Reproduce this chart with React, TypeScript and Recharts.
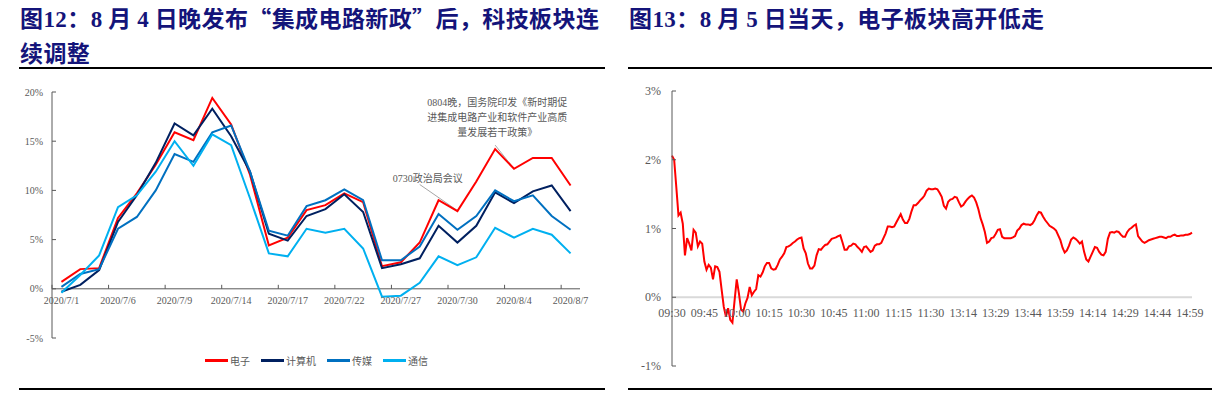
import React from "react";
import { LineChart, Line, XAxis, YAxis, Legend, ReferenceLine, ReferenceDot } from "recharts";

// 图12: sector cumulative returns
const dates = [
  "2020/7/1", "2020/7/2", "2020/7/3", "2020/7/6", "2020/7/7", "2020/7/8", "2020/7/9", "2020/7/10",
  "2020/7/13", "2020/7/14", "2020/7/15", "2020/7/16", "2020/7/17", "2020/7/20", "2020/7/21", "2020/7/22",
  "2020/7/23", "2020/7/24", "2020/7/27", "2020/7/28", "2020/7/29", "2020/7/30", "2020/7/31", "2020/8/3",
  "2020/8/4", "2020/8/5", "2020/8/6", "2020/8/7",
];
const dianzi = [0.7, 2.0, 2.1, 7.2, 9.7, 12.6, 15.9, 15.1, 19.4, 16.7, 11.6, 4.4, 5.2, 8.0, 8.5, 9.7, 8.8, 2.3, 2.7, 4.7, 9.0, 7.9, 10.9, 14.2, 12.2, 13.3, 13.3, 10.5];
const jisuanji = [-0.3, 0.4, 1.9, 6.8, 9.5, 12.8, 16.8, 15.6, 18.3, 15.5, 11.9, 5.6, 4.9, 7.4, 8.1, 9.6, 7.8, 2.1, 2.5, 3.1, 6.4, 4.7, 6.4, 9.8, 8.7, 9.9, 10.5, 7.9];
const chuanmei = [0.2, 1.5, 2.0, 6.1, 7.3, 10.0, 13.7, 12.9, 15.9, 16.6, 11.9, 5.9, 5.4, 8.4, 9.0, 10.1, 9.0, 2.9, 2.9, 4.3, 7.6, 6.0, 7.4, 10.0, 8.9, 9.5, 7.4, 6.0];
const tongxin = [-0.4, 1.4, 3.4, 8.3, 9.5, 11.9, 15.0, 12.5, 15.7, 14.6, 9.2, 3.6, 3.3, 6.1, 5.7, 6.1, 4.1, -0.8, -0.7, 0.6, 3.3, 2.4, 3.2, 6.2, 5.2, 6.1, 5.5, 3.6];
const legendOrder = ["电子", "计算机", "传媒", "通信"];
const leftYTicks = [-5, 0, 5, 10, 15, 20];

// 图13: 电子板块 intraday, [minutes since 09:30 (13:00 = 121), pct]
const intraday = [
  [0, 2.06], [1, 2.0], [2, 1.6], [3, 1.19], [4, 1.23], [5, 1.07], [6, 0.61], [7, 0.86], [8, 0.78], [9, 0.68],
  [10, 0.98], [11, 0.94], [12, 0.74], [13, 0.81], [14, 0.78], [15, 0.52], [16, 0.4], [17, 0.47], [18, 0.43], [19, 0.26],
  [20, 0.45], [21, 0.44], [22, 0.37], [23, 0.11], [24, -0.14], [25, -0.28], [26, -0.16], [27, -0.33], [28, -0.37], [29, -0.05],
  [30, 0.26], [31, 0.06], [32, -0.18], [33, -0.21], [34, -0.09], [35, -0.01], [36, 0.15], [37, 0.03], [38, 0.08], [39, 0.12],
  [40, 0.32], [41, 0.3], [42, 0.36], [43, 0.45], [44, 0.5], [45, 0.5], [46, 0.42], [47, 0.4], [48, 0.41], [49, 0.47],
  [50, 0.55], [51, 0.59], [52, 0.64], [53, 0.73], [54, 0.74], [55, 0.76], [56, 0.79], [57, 0.81], [58, 0.84], [59, 0.86],
  [60, 0.87], [61, 0.71], [62, 0.64], [63, 0.49], [64, 0.42], [65, 0.42], [66, 0.46], [67, 0.61], [68, 0.7], [69, 0.69],
  [70, 0.73], [71, 0.76], [72, 0.77], [73, 0.81], [74, 0.85], [75, 0.86], [76, 0.87], [77, 0.89], [78, 0.9], [79, 0.8],
  [80, 0.69], [81, 0.69], [82, 0.74], [83, 0.75], [84, 0.78], [85, 0.77], [86, 0.73], [87, 0.7], [88, 0.66], [89, 0.73],
  [90, 0.74], [91, 0.7], [92, 0.66], [93, 0.68], [94, 0.75], [95, 0.77], [96, 0.77], [97, 0.79], [98, 0.86], [99, 0.93],
  [100, 1.03], [101, 1.03], [102, 1.02], [103, 1.03], [104, 1.09], [105, 1.15], [106, 1.21], [107, 1.13], [108, 1.08], [109, 1.08],
  [110, 1.14], [111, 1.25], [112, 1.34], [113, 1.34], [114, 1.37], [115, 1.41], [116, 1.44], [117, 1.48], [118, 1.55], [119, 1.58],
  [120, 1.57], [121, 1.57], [122, 1.58], [123, 1.57], [124, 1.52], [125, 1.46], [126, 1.33], [127, 1.29], [128, 1.39], [129, 1.42],
  [130, 1.43], [131, 1.46], [132, 1.45], [133, 1.38], [134, 1.32], [135, 1.34], [136, 1.39], [137, 1.43], [138, 1.46], [139, 1.48],
  [140, 1.45], [141, 1.38], [142, 1.28], [143, 1.15], [144, 1.06], [145, 0.95], [146, 0.79], [147, 0.81], [148, 0.86], [149, 0.87],
  [150, 0.92], [151, 0.98], [152, 0.99], [153, 0.88], [154, 0.86], [155, 0.86], [156, 0.86], [157, 0.86], [158, 0.87], [159, 0.89],
  [160, 0.97], [161, 1.0], [162, 1.05], [163, 1.07], [164, 1.06], [165, 1.06], [166, 1.05], [167, 1.07], [168, 1.12], [169, 1.19],
  [170, 1.24], [171, 1.23], [172, 1.17], [173, 1.12], [174, 1.08], [175, 1.04], [176, 1.02], [177, 1.0], [178, 0.97], [179, 0.9],
  [180, 0.83], [181, 0.72], [182, 0.65], [183, 0.68], [184, 0.75], [185, 0.84], [186, 0.87], [187, 0.85], [188, 0.82], [189, 0.78],
  [190, 0.81], [191, 0.66], [192, 0.55], [193, 0.52], [194, 0.59], [195, 0.66], [196, 0.73], [197, 0.72], [198, 0.66], [199, 0.62],
  [200, 0.61], [201, 0.66], [202, 0.85], [203, 0.94], [204, 0.95], [205, 0.94], [206, 0.96], [207, 0.95], [208, 0.91], [209, 0.88],
  [210, 0.88], [211, 0.95], [212, 0.99], [213, 1.01], [214, 1.04], [215, 1.06], [216, 0.89], [217, 0.85], [218, 0.81], [219, 0.79],
  [220, 0.81], [221, 0.83], [222, 0.84], [223, 0.85], [224, 0.86], [225, 0.87], [226, 0.88], [227, 0.88], [228, 0.87], [229, 0.86],
  [230, 0.88], [231, 0.88], [232, 0.9], [233, 0.91], [234, 0.89], [235, 0.89], [236, 0.9], [237, 0.9], [238, 0.91], [239, 0.91],
  [240, 0.92], [241, 0.94],
];
const timeTicks = [0, 15, 30, 45, 60, 75, 90, 105, 120, 135, 150, 165, 180, 195, 210, 225, 240];
const timeLabels = ["09:30", "09:45", "10:00", "10:15", "10:30", "10:45", "11:00", "11:15", "11:30", "13:14", "13:29", "13:44", "13:59", "14:14", "14:29", "14:44", "14:59"];
const rightYTicks = [-1, 0, 1, 2, 3];

const GREY = "#595959";
const SERIF = "'Liberation Serif', 'Times New Roman', serif";
const CJK = "'Noto Sans CJK SC', sans-serif";

const leftData = dates.map((date, i) => ({
  date,
  dianzi: dianzi[i],
  jisuanji: jisuanji[i],
  chuanmei: chuanmei[i],
  tongxin: tongxin[i],
}));
const rightData = intraday.map(([m, v]) => ({ m, v }));

// left chart box
const LW = 610, LH = 292, LTOP = 12, LRIGHT = 30, LYW = 52, LXH = 10, LLEG = 24;
const lPlotH = LH - LTOP - LXH - LLEG;
const lPlotW = LW - LYW - LRIGHT;
const lZeroShift = (lPlotH * 5) / 25;
const lBand = lPlotW / dates.length;

// right chart box
const RW = 600, RH = 300, RTOP = 11, RRIGHT = 28, RYW = 52, RXH = 14;
const rPlotH = RH - RTOP - RXH;
const rZeroShift = rPlotH / 4;

const PctTick = (props: any) => {
  const { x, y, payload, gap, size } = props;
  return (
    <g>
      <line x1={x + gap} x2={x + gap + 4} y1={y} y2={y} stroke={GREY} />
      <text x={x} y={y} textAnchor="end" dominantBaseline="central" fill={GREY} fontSize={size} fontFamily={SERIF}>
        {payload.value}%
      </text>
    </g>
  );
};

const DateTick = (props: any) => {
  const { x, y, payload } = props;
  const half = payload.offset || lBand / 2;
  const y0 = y - lZeroShift;
  return (
    <g>
      <line x1={x - half} x2={x - half} y1={y0} y2={y0 - 4} stroke={GREY} />
      <text x={x} y={y0 + 12} textAnchor="middle" dominantBaseline="central" fill={GREY} fontSize={10} fontFamily={SERIF}>
        {payload.value}
      </text>
    </g>
  );
};

const TimeTick = (props: any) => {
  const { x, y, payload } = props;
  const label = timeLabels[timeTicks.indexOf(payload.value)];
  return (
    <text x={x} y={y - rZeroShift + 16} textAnchor="middle" dominantBaseline="central" fill={GREY} fontSize={12} fontFamily={SERIF}>
      {label}
    </text>
  );
};

const LegendContent = (props: any) => {
  const items = [...(props.payload || [])].sort(
    (a: any, b: any) => legendOrder.indexOf(a.value) - legendOrder.indexOf(b.value)
  );
  return (
    <div style={{ display: "flex", paddingLeft: 205, height: LLEG, alignItems: "center", fontFamily: CJK, fontSize: 10, color: GREY }}>
      {items.map((p: any) => (
        <div key={p.value} style={{ display: "flex", alignItems: "center", marginRight: 11 }}>
          <span style={{ width: 23, height: 3, background: p.color, marginRight: 2, display: "inline-block" }} />
          <span>{p.value}</span>
        </div>
      ))}
    </div>
  );
};

const Note = ({ lines, dx, anchor }: { lines: string[]; dx: number; anchor: string }) => (p: any) => (
  <text x={p.cx + dx} y={p.cy} textAnchor={anchor} dominantBaseline="central" fill={GREY} fontSize={10} fontFamily={`'Liberation Serif', ${CJK}`}>
    {lines.map((t, i) => (
      <tspan key={i} x={p.cx + dx} dy={i === 0 ? 0 : 15.3}>
        {t}
      </tspan>
    ))}
  </text>
);

const titleStyle: React.CSSProperties = {
  position: "absolute",
  fontFamily: CJK,
  fontWeight: 700,
  fontSize: 23,
  lineHeight: "33px",
  letterSpacing: 0.4,
  color: "#14147a",
  whiteSpace: "nowrap",
};
const num: React.CSSProperties = { fontFamily: SERIF };
const rule = (left: number, top: number, width: number): React.CSSProperties => ({
  position: "absolute", left, top, width, height: 2, background: "#000",
});

export default function App() {
  return (
    <div style={{ position: "relative", width: 1227, height: 396, marginLeft: -8, marginTop: -8, background: "#fff", overflow: "hidden" }}>
      <div style={{ ...titleStyle, left: 20, top: 1 }}>
        图<span style={num}>12</span>：<span style={num}>8</span> 月 <span style={num}>4</span> 日晚发布“集成电路新政”后，科技板块连
        <br />
        续调整
      </div>
      <div style={{ ...titleStyle, left: 629, top: 1 }}>
        图<span style={num}>13</span>：<span style={num}>8</span> 月 <span style={num}>5</span> 日当天，电子板块高开低走
      </div>
      <div style={rule(19, 67, 586)} />
      <div style={rule(628, 67, 584)} />
      <div style={rule(19, 388, 586)} />
      <div style={rule(628, 388, 584)} />

      <div style={{ position: "absolute", left: 0, top: 80 }}>
        <LineChart width={LW} height={LH} data={leftData} margin={{ top: LTOP, right: LRIGHT, left: 0, bottom: 0 }}>
          <XAxis dataKey="date" scale="band" height={LXH} interval={2} axisLine={false} tickLine={false} tickSize={0} tickMargin={0} tick={<DateTick />} />
          <YAxis width={LYW} domain={[-5, 20]} ticks={leftYTicks} interval={0} axisLine={{ stroke: GREY }} tickLine={false} tickSize={0} tickMargin={9} tick={<PctTick gap={9} size={10} />} />
          <Legend verticalAlign="bottom" height={LLEG} wrapperStyle={{ left: 0, width: LW }} content={<LegendContent />} />
          <ReferenceLine y={0} stroke={GREY} />
          <ReferenceLine stroke="#A6A6A6" ifOverflow="visible" segment={[{ x: "2020/8/3", y: 14.6 }, { x: "2020/8/4", y: 12.2 }]} />
          <ReferenceLine stroke="#A6A6A6" ifOverflow="visible" segment={[{ x: "2020/7/28", y: 10.6 }, { x: "2020/7/30", y: 7.95 }]} />
          <ReferenceDot x="2020/8/3" y={19.0} r={0} ifOverflow="visible"
            shape={Note({ lines: ["0804晚，国务院印发《新时期促", "进集成电路产业和软件产业高质", "量发展若干政策》"], dx: 2, anchor: "middle" })} />
          <ReferenceDot x="2020/7/28" y={11.27} r={0} ifOverflow="visible"
            shape={Note({ lines: ["0730政治局会议"], dx: -27, anchor: "start" })} />
          <Line dataKey="dianzi" name="电子" stroke="#FF0000" strokeWidth={2} dot={false} activeDot={false} isAnimationActive={false} />
          <Line dataKey="jisuanji" name="计算机" stroke="#002060" strokeWidth={2} dot={false} activeDot={false} isAnimationActive={false} />
          <Line dataKey="chuanmei" name="传媒" stroke="#0070C0" strokeWidth={2} dot={false} activeDot={false} isAnimationActive={false} />
          <Line dataKey="tongxin" name="通信" stroke="#00B0F0" strokeWidth={2} dot={false} activeDot={false} isAnimationActive={false} />
        </LineChart>
      </div>

      <div style={{ position: "absolute", left: 620, top: 80 }}>
        <LineChart width={RW} height={RH} data={rightData} margin={{ top: RTOP, right: RRIGHT, left: 0, bottom: 0 }}>
          <XAxis dataKey="m" type="number" domain={[0, 241]} ticks={timeTicks} interval={0} height={RXH} axisLine={false} tickLine={false} tickSize={0} tickMargin={0} tick={<TimeTick />} />
          <YAxis width={RYW} domain={[-1, 3]} ticks={rightYTicks} interval={0} axisLine={{ stroke: GREY }} tickLine={false} tickSize={0} tickMargin={11} tick={<PctTick gap={11} size={12} />} />
          <ReferenceLine y={0} stroke="#D9D9D9" strokeWidth={2} />
          <Line dataKey="v" stroke="#FF0000" strokeWidth={2} dot={false} activeDot={false} isAnimationActive={false} />
        </LineChart>
      </div>
    </div>
  );
}
